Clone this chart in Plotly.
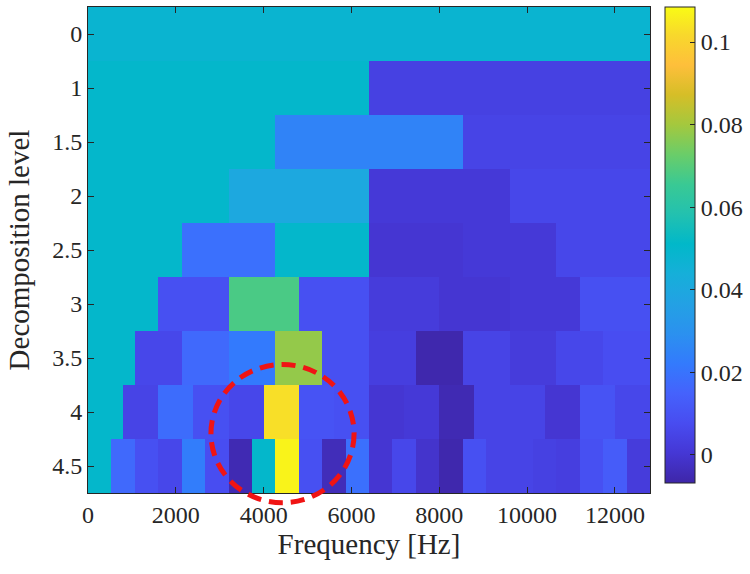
import numpy as np
import plotly.graph_objects as go

# ---------------- data ----------------
F_MAX = 12800  # Hz (fs/2)
level_labels = ["0", "1", "1.5", "2", "2.5", "3", "3.5", "4", "4.5"]

kurt_l0 = [0.048]
kurt_l1 = [0.050, 0.004]
kurt_l15 = [0.050, 0.025, 0.005]
kurt_l2 = [0.050, 0.040, 0.001, 0.006]
kurt_l25 = [0.050, 0.019, 0.050, 0.000, 0.001, 0.006]
kurt_l3 = [0.050, 0.009, 0.068, 0.009, 0.002, 0.000, 0.001, 0.009]
kurt_l35 = [0.050, 0.006, 0.017, 0.022, 0.078, 0.009,
            0.003, -0.006, 0.005, 0.002, 0.006, 0.008]
kurt_l4 = [0.050, 0.005, 0.018, 0.009, 0.006, 0.103, 0.010, 0.009,
           0.000, 0.001, -0.005, 0.005, 0.005, 0.000, 0.010, 0.006]
kurt_l45 = [0.050, 0.017, 0.009, 0.006, 0.023, 0.008, -0.005, 0.050,
            0.107, 0.009, -0.004, 0.019, 0.000, 0.006, -0.001, -0.006,
            0.009, 0.005, 0.005, 0.004, 0.003, 0.009, 0.013, 0.002]

rows = [kurt_l0, kurt_l1, kurt_l15, kurt_l2, kurt_l25,
        kurt_l3, kurt_l35, kurt_l4, kurt_l45]

Z_MIN, Z_MAX = -0.0068, 0.1085
cbar_ticks = [0, 0.02, 0.04, 0.06, 0.08, 0.1]
cbar_text = ["0", "0.02", "0.04", "0.06", "0.08", "0.1"]
x_ticks = [0, 2000, 4000, 6000, 8000, 10000, 12000]
x_tick_text = ["0", "2000", "4000", "6000", "8000", "10000", "12000"]

# highlighted region (frequency Hz, level row index)
circ_center_f, circ_center_row = 4430, 7.4
circ_half_f, circ_half_row = 1630, 1.28

# ---------------- build grid ----------------
NCOL = 48
z = [np.repeat(r, NCOL // len(r)).tolist() for r in rows]
x_edges = np.linspace(0, F_MAX, NCOL + 1)
y_idx = list(range(len(level_labels)))

parula = [
    [0.000, "#3E26A8"], [0.063, "#4537D5"], [0.125, "#484CF0"],
    [0.188, "#4562FC"], [0.250, "#337AFD"], [0.314, "#2B91EF"],
    [0.376, "#23A1E4"], [0.439, "#16AFD9"], [0.502, "#01B8C9"],
    [0.565, "#23C1AF"], [0.627, "#39C994"], [0.690, "#6ACD69"],
    [0.753, "#A4C83E"], [0.816, "#D6BE27"], [0.878, "#FEBF3B"],
    [0.941, "#F8D82C"], [1.000, "#F9FB15"],
]

FONT = "Liberation Serif, Times New Roman, serif"
INK = "#262626"

fig = go.Figure(go.Heatmap(
    z=z, x=x_edges, y=y_idx,
    colorscale=parula, zmin=Z_MIN, zmax=Z_MAX,
    colorbar=dict(
        x=1.027, xanchor="left", xpad=0,
        y=1, yanchor="top", ypad=0,
        len=0.979, lenmode="fraction", thickness=30,
        outlinewidth=1, outlinecolor=INK,
        tickvals=cbar_ticks, ticktext=cbar_text,
        ticks="inside", ticklen=5, tickcolor=INK,
        tickfont=dict(family=FONT, size=24, color=INK),
    ),
    hoverinfo="skip",
))

y_lo, y_hi = len(level_labels) - 0.5, -0.5


def fx(f):
    return f / F_MAX


def fy(r):
    return (y_lo - r) / (y_lo - y_hi)


fig.add_shape(
    type="circle", xref="paper", yref="paper",
    x0=fx(circ_center_f - circ_half_f), x1=fx(circ_center_f + circ_half_f),
    y0=fy(circ_center_row + circ_half_row), y1=fy(circ_center_row - circ_half_row),
    line=dict(color="#F01414", width=5, dash="14px,8px"),
    layer="above",
)

fig.update_layout(
    width=750, height=574,
    margin=dict(l=88, r=100, t=7, b=81, autoexpand=False),
    paper_bgcolor="white", plot_bgcolor="white",
    font=dict(family=FONT, color=INK),
    xaxis=dict(
        range=[0, F_MAX], tickvals=x_ticks, ticktext=x_tick_text,
        ticks="inside", ticklen=6, tickcolor=INK, mirror="ticks",
        showline=True, linecolor=INK, linewidth=1,
        showgrid=False, zeroline=False, automargin=False,
        tickfont=dict(family=FONT, size=24, color=INK),
        title=dict(text="Frequency [Hz]", font=dict(family=FONT, size=29, color=INK), standoff=6),
    ),
    yaxis=dict(
        range=[y_lo, y_hi], tickvals=y_idx, ticktext=level_labels,
        ticks="inside", ticklen=6, tickcolor=INK, mirror="ticks",
        showline=True, linecolor=INK, linewidth=1,
        showgrid=False, zeroline=False, automargin=False,
        tickfont=dict(family=FONT, size=24, color=INK),
        title=dict(text="Decomposition level", font=dict(family=FONT, size=29, color=INK), standoff=14),
    ),
)

fig.write_html("out.html", config={"displayModeBar": False},
               post_script="document.body.style.margin='0';")
